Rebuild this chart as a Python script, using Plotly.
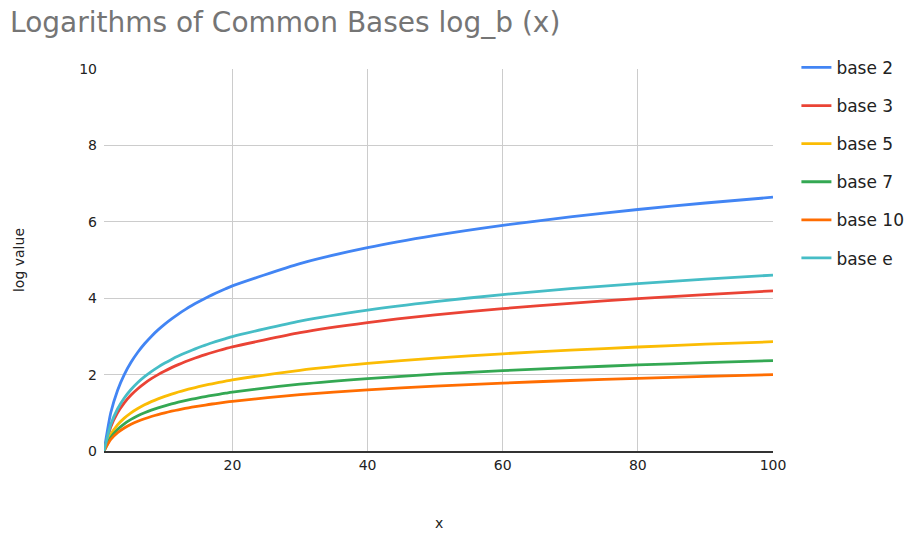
import plotly.graph_objects as go

# Sample points along x
x_vals = [1, 2, 3, 4, 5, 6, 7, 8, 9, 10, 11, 12, 13, 14, 15, 16, 17, 18, 19, 20,
          30, 40, 50, 60, 70, 80, 90, 100]

# log values for each base at the sample points
log_base2 = [0.0, 1.0, 1.585, 2.0, 2.322, 2.585, 2.807, 3.0, 3.17, 3.322, 3.459, 3.585, 3.7, 3.807,
             3.907, 4.0, 4.087, 4.17, 4.248, 4.322, 4.907, 5.322, 5.644, 5.907, 6.129, 6.322, 6.492, 6.644]
log_base3 = [0.0, 0.631, 1.0, 1.262, 1.465, 1.631, 1.771, 1.893, 2.0, 2.096, 2.183, 2.262, 2.335, 2.402,
             2.465, 2.524, 2.579, 2.631, 2.68, 2.727, 3.096, 3.358, 3.561, 3.727, 3.867, 3.989, 4.096, 4.192]
log_base5 = [0.0, 0.431, 0.683, 0.861, 1.0, 1.113, 1.209, 1.292, 1.365, 1.431, 1.49, 1.544, 1.594, 1.64,
             1.683, 1.723, 1.76, 1.796, 1.829, 1.861, 2.113, 2.292, 2.431, 2.544, 2.64, 2.723, 2.796, 2.861]
log_base7 = [0.0, 0.356, 0.565, 0.712, 0.827, 0.921, 1.0, 1.069, 1.129, 1.183, 1.232, 1.277, 1.318, 1.356,
             1.392, 1.425, 1.456, 1.485, 1.513, 1.54, 1.748, 1.896, 2.01, 2.104, 2.183, 2.252, 2.312, 2.367]
log_base10 = [0.0, 0.301, 0.477, 0.602, 0.699, 0.778, 0.845, 0.903, 0.954, 1.0, 1.041, 1.079, 1.114, 1.146,
              1.176, 1.204, 1.23, 1.255, 1.279, 1.301, 1.477, 1.602, 1.699, 1.778, 1.845, 1.903, 1.954, 2.0]
log_base_e = [0.0, 0.693, 1.099, 1.386, 1.609, 1.792, 1.946, 2.079, 2.197, 2.303, 2.398, 2.485, 2.565, 2.639,
              2.708, 2.773, 2.833, 2.89, 2.944, 2.996, 3.401, 3.689, 3.912, 4.094, 4.248, 4.382, 4.5, 4.605]

series_names = ["base 2", "base 3", "base 5", "base 7", "base 10", "base e"]
series_values = [log_base2, log_base3, log_base5, log_base7, log_base10, log_base_e]
series_colors = ["#4285F4", "#EA4335", "#FBBC04", "#34A853", "#FF6D01", "#46BDC6"]

y_ticks = [0, 2, 4, 6, 8, 10]
x_ticks = [20, 40, 60, 80, 100]

FONT = "DejaVu Sans, Arial, sans-serif"
TEXT = "#222222"

fig = go.Figure()
for i, (name, vals, col) in enumerate(zip(series_names, series_values, series_colors)):
    fig.add_trace(go.Scatter(
        x=x_vals, y=vals, name=name, mode="lines",
        line=dict(color=col, width=2.8, shape="spline", smoothing=0.6),
        legendgroup=f"g{i}",
    ))

fig.update_layout(
    width=912, height=533,
    margin=dict(l=104, r=139, t=69, b=82, autoexpand=False),
    paper_bgcolor="white", plot_bgcolor="white",
    font=dict(family=FONT, color=TEXT),
    title=dict(
        text="Logarithms of Common Bases log_b (x)",
        x=0.011, xanchor="left", y=0.958, yanchor="middle",
        font=dict(family=FONT, size=28, color="#757575"),
    ),
    legend=dict(
        x=1.035, xanchor="left", y=1.05, yanchor="top",
        font=dict(family=FONT, size=17, color=TEXT),
        tracegroupgap=13, itemwidth=30,
    ),
    showlegend=True,
    annotations=[
        dict(text="log value", xref="paper", yref="paper", x=-0.127, y=0.5,
             xanchor="center", yanchor="middle", textangle=-90, showarrow=False,
             font=dict(family=FONT, size=14, color=TEXT)),
        dict(text="x", xref="paper", yref="paper", x=0.5, y=-0.188,
             xanchor="center", yanchor="middle", showarrow=False,
             font=dict(family=FONT, size=14, color=TEXT)),
    ],
)

fig.update_xaxes(
    range=[1, 100], tickvals=x_ticks,
    showgrid=True, gridcolor="#cccccc", gridwidth=1,
    zeroline=False, showline=True, linecolor="#333333", linewidth=1.5,
    ticks="", tickfont=dict(family=FONT, size=14, color=TEXT),
)
fig.update_yaxes(
    range=[0, 10], tickvals=y_ticks,
    showgrid=True, gridcolor="#cccccc", gridwidth=1,
    zeroline=False, showline=False,
    ticks="", ticklabelstandoff=6, tickfont=dict(family=FONT, size=14, color=TEXT),
)

fig.write_html("out.html")
